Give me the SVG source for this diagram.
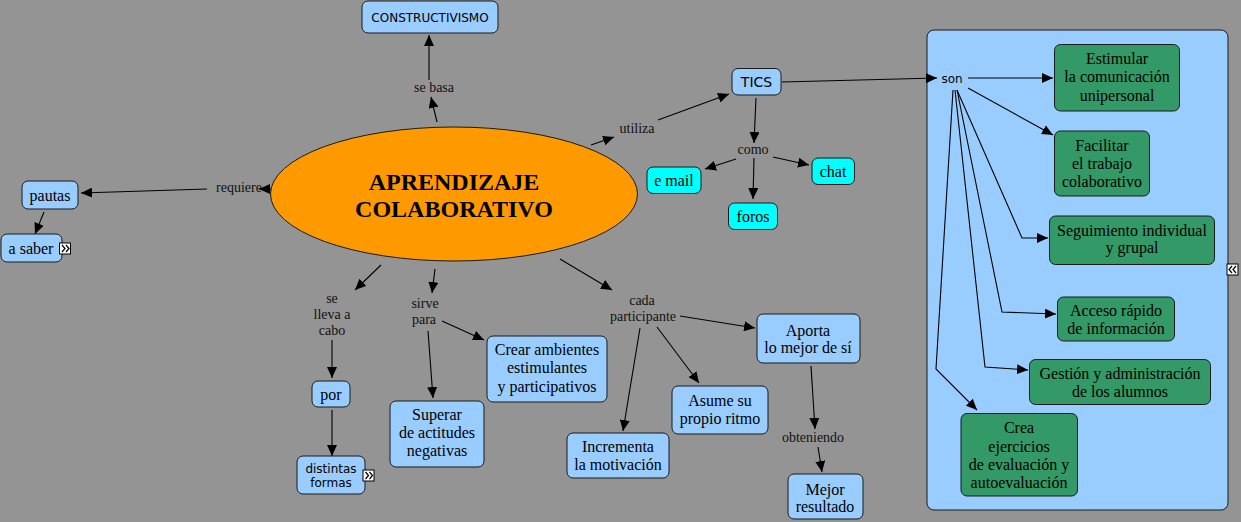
<svg xmlns="http://www.w3.org/2000/svg" width="1241" height="522" viewBox="0 0 1241 522">
<defs>
<marker id="ah" markerUnits="userSpaceOnUse" markerWidth="12" markerHeight="10" refX="11" refY="5" orient="auto">
<path d="M0,0 L11,5 L0,10 z" fill="#000"/>
</marker>
<style>
.bg{fill:#949494}
.box{fill:#99ccff;stroke:#1a1a1a;stroke-width:1}
.cy{fill:#00ffff;stroke:#1a1a1a;stroke-width:1}
.gr{fill:#339966;stroke:#1a1a1a;stroke-width:1}
.t{font-family:"Liberation Serif","Times New Roman",serif;font-size:16px;fill:#000;text-anchor:middle}
.s{font-family:"DejaVu Sans",Verdana,sans-serif;font-size:12px;fill:#000;text-anchor:middle}
.l{font-family:"Liberation Serif","Times New Roman",serif;font-size:14px;fill:#111;text-anchor:middle}
.c line,.c polyline{stroke:#000;stroke-width:1.1;fill:none;marker-end:url(#ah)}
.ic{fill:#fff;stroke:#000;stroke-width:1}
.chev{fill:none;stroke:#000;stroke-width:1.2}
</style>
</defs>
<rect class="bg" x="0" y="0" width="1241" height="522"/>

<g id="panel">
<rect x="927" y="30" width="301" height="480" rx="7" fill="#99ccff" stroke="#1a1a1a" stroke-width="1"/>
<rect class="ic" x="1227" y="264" width="11" height="11"/>
<path class="chev" d="M1232,266 L1229,269.5 L1232,273 M1236,266 L1233,269.5 L1236,273"/>
</g>

<g id="connectors" class="c">
<line x1="437" y1="122" x2="431" y2="97"/>
<line x1="429" y1="80" x2="429" y2="35"/>
<line x1="272" y1="189" x2="259" y2="189"/>
<line x1="207" y1="189" x2="81" y2="193"/>
<line x1="44" y1="212" x2="35" y2="234"/>
<line x1="381" y1="265" x2="355" y2="290"/>
<line x1="332" y1="340" x2="332" y2="378"/>
<line x1="332" y1="410" x2="332" y2="456"/>
<line x1="435" y1="269" x2="432" y2="293"/>
<line x1="442" y1="321" x2="484" y2="340"/>
<line x1="428" y1="331" x2="433" y2="398"/>
<line x1="560" y1="259" x2="612" y2="290"/>
<line x1="640" y1="328" x2="623" y2="431"/>
<line x1="657" y1="327" x2="699" y2="383"/>
<line x1="680" y1="316" x2="755" y2="328"/>
<line x1="811" y1="366" x2="815" y2="429"/>
<line x1="818" y1="447" x2="822" y2="472"/>
<line x1="591" y1="145" x2="614" y2="137"/>
<line x1="658" y1="120" x2="729" y2="94"/>
<line x1="756" y1="98" x2="754" y2="143"/>
<line x1="736" y1="159" x2="705" y2="169"/>
<line x1="754" y1="158" x2="753" y2="199"/>
<line x1="773" y1="157" x2="809" y2="165"/>
<line x1="782" y1="82" x2="937" y2="78"/>
<line x1="968" y1="78" x2="1053" y2="78"/>
<line x1="968" y1="88" x2="1053" y2="135"/>
<polyline points="957,90 1022,238 1048,238"/>
<polyline points="957,90 1002,312 1056,314"/>
<polyline points="955,90 985,367 1028,370"/>
<polyline points="953,90 936,369 977,410"/>
</g>

<g id="n-aprendizaje">
<ellipse cx="454" cy="194" rx="183.5" ry="67" fill="#ff9900" stroke="#1a1a1a" stroke-width="1"/>
<text class="t" x="454" y="190" style="font-size:24px;font-weight:bold">APRENDIZAJE</text>
<text class="t" x="454" y="217" style="font-size:24px;font-weight:bold">COLABORATIVO</text>
</g>

<g id="n-constructivismo">
<rect class="box" x="362" y="1" width="136" height="32" rx="6"/>
<text class="s" x="430" y="21.5">CONSTRUCTIVISMO</text>
</g>
<g id="l-sebasa"><text class="l" x="434" y="92">se basa</text></g>
<g id="l-requiere"><text class="l" x="239" y="192">requiere</text></g>

<g id="n-pautas">
<rect class="box" x="22" y="181" width="56" height="28" rx="6"/>
<text class="t" x="50" y="200.5">pautas</text>
</g>
<g id="n-asaber">
<rect class="box" x="1" y="234" width="61" height="28" rx="6"/>
<text class="t" x="31" y="253.5">a saber</text>
<rect class="ic" x="59.5" y="243" width="11" height="11"/>
<path class="chev" d="M62,245 L65,248.5 L62,252 M66,245 L69,248.5 L66,252"/>
</g>

<g id="l-sellevaacabo">
<text class="l" x="332" y="303">se</text>
<text class="l" x="332" y="319">lleva a</text>
<text class="l" x="332" y="335">cabo</text>
</g>
<g id="n-por">
<rect class="box" x="312" y="381" width="38" height="26" rx="6"/>
<text class="t" x="331" y="399.5">por</text>
</g>
<g id="n-distintas">
<rect class="box" x="297" y="456" width="68" height="38" rx="6"/>
<text class="s" x="331" y="473">distintas</text>
<text class="s" x="331" y="487">formas</text>
<rect class="ic" x="363" y="470" width="11" height="11"/>
<path class="chev" d="M365.5,472 L368.5,475.5 L365.5,479 M369.5,472 L372.5,475.5 L369.5,479"/>
</g>

<g id="l-sirvepara">
<text class="l" x="425" y="308">sirve</text>
<text class="l" x="424" y="324">para</text>
</g>
<g id="n-crear">
<rect class="box" x="487" y="336" width="120" height="66" rx="6"/>
<text class="t" x="547" y="354.5">Crear ambientes</text>
<text class="t" x="547" y="373">estimulantes</text>
<text class="t" x="547" y="391.5">y participativos</text>
</g>
<g id="n-superar">
<rect class="box" x="390" y="401" width="94" height="66" rx="6"/>
<text class="t" x="437" y="419.5">Superar</text>
<text class="t" x="437" y="437.5">de actitudes</text>
<text class="t" x="437" y="456">negativas</text>
</g>

<g id="l-cadaparticipante">
<text class="l" x="642" y="305">cada</text>
<text class="l" x="643" y="321">participante</text>
</g>
<g id="n-incrementa">
<rect class="box" x="567" y="433" width="102" height="45" rx="6"/>
<text class="t" x="618" y="452">Incrementa</text>
<text class="t" x="618" y="469.5">la motivación</text>
</g>
<g id="n-asume">
<rect class="box" x="672" y="386" width="96" height="48" rx="6"/>
<text class="t" x="720" y="405.5">Asume su</text>
<text class="t" x="720" y="423.5">propio ritmo</text>
</g>
<g id="n-aporta">
<rect class="box" x="757" y="314" width="103" height="49" rx="6"/>
<text class="t" x="808" y="335.5">Aporta</text>
<text class="t" x="808" y="353">lo mejor de sí</text>
</g>
<g id="l-obteniendo"><text class="l" x="813" y="442">obteniendo</text></g>
<g id="n-mejor">
<rect class="box" x="788" y="474" width="75" height="45" rx="6"/>
<text class="t" x="825" y="494.5">Mejor</text>
<text class="t" x="825" y="512">resultado</text>
</g>

<g id="l-utiliza"><text class="l" x="637" y="133">utiliza</text></g>
<g id="n-tics">
<rect class="box" x="732" y="68.5" width="49" height="26.5" rx="6"/>
<text class="s" x="756.5" y="87" style="font-size:14px">TICS</text>
</g>
<g id="l-como"><text class="l" x="753" y="154">como</text></g>
<g id="n-email">
<rect class="cy" x="647" y="167" width="54" height="26.5" rx="6"/>
<text class="t" x="674" y="185.5">e mail</text>
</g>
<g id="n-foros">
<rect class="cy" x="728.5" y="203" width="49" height="26.5" rx="6"/>
<text class="t" x="753" y="221.5">foros</text>
</g>
<g id="n-chat">
<rect class="cy" x="812" y="158" width="42.5" height="26.5" rx="6"/>
<text class="t" x="833" y="176.5">chat</text>
</g>

<g id="l-son"><text class="s" x="952" y="83">son</text></g>
<g id="n-estimular">
<rect class="gr" x="1054.5" y="44.5" width="125" height="66.5" rx="6"/>
<text class="t" x="1117" y="63.5">Estimular</text>
<text class="t" x="1117" y="82">la comunicación</text>
<text class="t" x="1117" y="100.5">unipersonal</text>
</g>
<g id="n-facilitar">
<rect class="gr" x="1054.5" y="131" width="95" height="65" rx="6"/>
<text class="t" x="1102" y="150.5">Facilitar</text>
<text class="t" x="1102" y="169">el trabajo</text>
<text class="t" x="1102" y="187">colaborativo</text>
</g>
<g id="n-seguimiento">
<rect class="gr" x="1049.5" y="216" width="165" height="48.5" rx="6"/>
<text class="t" x="1132" y="235.5">Seguimiento individual</text>
<text class="t" x="1132" y="253">y grupal</text>
</g>
<g id="n-acceso">
<rect class="gr" x="1057.5" y="297" width="117" height="44" rx="6"/>
<text class="t" x="1116" y="316">Acceso rápido</text>
<text class="t" x="1116" y="334">de información</text>
</g>
<g id="n-gestion">
<rect class="gr" x="1029.5" y="359.5" width="181" height="45" rx="6"/>
<text class="t" x="1120" y="379">Gestión y administración</text>
<text class="t" x="1120" y="396.5">de los alumnos</text>
</g>
<g id="n-crea">
<rect class="gr" x="961" y="413.5" width="116.5" height="82.5" rx="6"/>
<text class="t" x="1019" y="433">Crea</text>
<text class="t" x="1019" y="451.5">ejercicios</text>
<text class="t" x="1019" y="470">de evaluación y</text>
<text class="t" x="1019" y="488">autoevaluación</text>
</g>
</svg>
